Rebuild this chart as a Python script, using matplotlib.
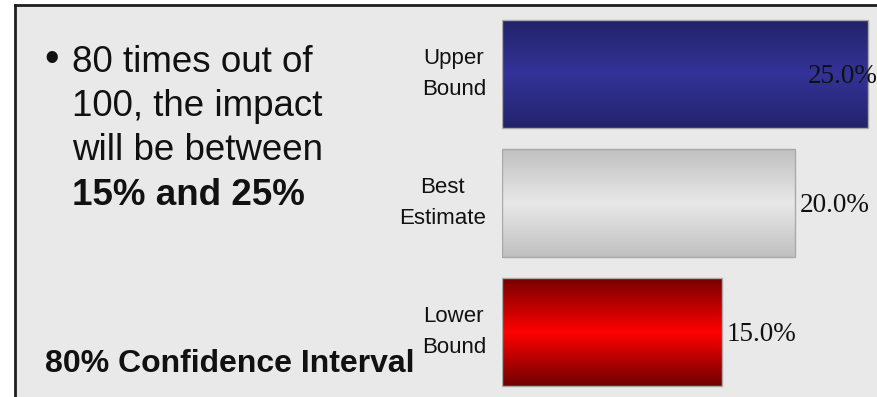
import numpy as np
import matplotlib
matplotlib.use("Agg")
import matplotlib.pyplot as plt
from matplotlib.colors import LinearSegmentedColormap
from matplotlib.patches import Rectangle
from matplotlib.lines import Line2D

# chart data
categories = ["Upper\nBound", "Best\nEstimate", "Lower\nBound"]
values = [25.0, 20.0, 15.0]
bar_colors = [
    ["#23236a", "#333399", "#23236a"],
    ["#c0c0c0", "#e8e8e8", "#c0c0c0"],
    ["#760000", "#ff0000", "#700000"],
]
bullet_lines = ["80 times out of", "100, the impact", "will be between"]
bullet_bold = "15% and 25%"
footer = "80% Confidence Interval"

W, H = 878, 397
SANS = "Liberation Sans"
SERIF = "Liberation Serif"


def px(x, y):
    # pixel position (from top-left) to figure fraction
    return x / W, 1 - y / H


fig = plt.figure(figsize=(W / 100, H / 100), dpi=100, facecolor="white")

# grey slide panel with dark top/left frame
x0, y0 = px(15, 5)
fig.patches.append(Rectangle((x0, 0), 1 - x0, y0, transform=fig.transFigure,
                             facecolor="#e9e9e9", edgecolor="none", zorder=-5))
fig.lines.append(Line2D([x0, 1], [y0, y0], transform=fig.transFigure,
                        color="#1e1e1e", lw=2, zorder=5))
fig.lines.append(Line2D([x0, x0], [0, y0], transform=fig.transFigure,
                        color="#1e1e1e", lw=2, zorder=5))

# bar axes: x from 502px to right edge, 14.65 px per percent
scale = 14.65
ax = fig.add_axes([502 / W, 0, 1 - 502 / W, 1])
ax.set_facecolor("none")
ax.axis("off")
xmax = (W - 502) / scale
step = 129.0
ytop = -74 / step
ybot = (H - 74) / step
bh = 108 / step

ypos = np.arange(len(values))
bars = ax.barh(ypos, values, height=bh, facecolor="none",
               edgecolor="#a9a9a9", linewidth=1.0, zorder=3)

grad = np.linspace(0, 1, 256).reshape(-1, 1)
for bar, cols in zip(bars, bar_colors):
    cmap = LinearSegmentedColormap.from_list("g", cols)
    bx, by, bw, bhh = bar.get_x(), bar.get_y(), bar.get_width(), bar.get_height()
    im = ax.imshow(grad, cmap=cmap, aspect="auto", origin="upper",
                   extent=(bx, bx + bw, by + bhh, by), interpolation="bicubic",
                   zorder=2)
    im.set_clip_path(bar)

ax.set_xlim(0, xmax)
ax.set_ylim(ybot, ytop)

# category labels
for y, lab in zip(ypos, categories):
    ax.text(-16 / scale, y, lab, ha="right", va="center", multialignment="center",
            fontsize=16, family=SANS, color="#111111", linespacing=1.6)

# value labels, pulled inside when they would run off the figure
label_w = 70 / scale
pad = 5 / scale
for y, v in zip(ypos, values):
    if v + pad + label_w > xmax:
        xt, ha = xmax, "right"
    else:
        xt, ha = v + pad, "left"
    ax.text(xt, y + 0.02, f"{v:.1f}%", ha=ha, va="center",
            fontsize=19.5, family=SERIF, color="#111111")

# bullet text
bx_, by_ = px(52, 60)
fig.text(bx_, by_, "\u2022", ha="center", va="center", fontsize=30,
         family=SANS, color="#111111")
baselines = [72, 116, 160, 205]
for line, yb in zip(bullet_lines, baselines):
    fx, fy = px(72, yb)
    fig.text(fx, fy, line, ha="left", va="baseline", fontsize=26.5,
             family=SANS, color="#111111")
fx, fy = px(72, baselines[-1])
fig.text(fx, fy, bullet_bold, ha="left", va="baseline", fontsize=26.5,
         family=SANS, weight="bold", color="#111111")

fx, fy = px(45, 372)
fig.text(fx, fy, footer, ha="left", va="baseline", fontsize=23,
         family=SANS, weight="bold", color="#111111")

fig.savefig("out.png", dpi=100, facecolor="white")
